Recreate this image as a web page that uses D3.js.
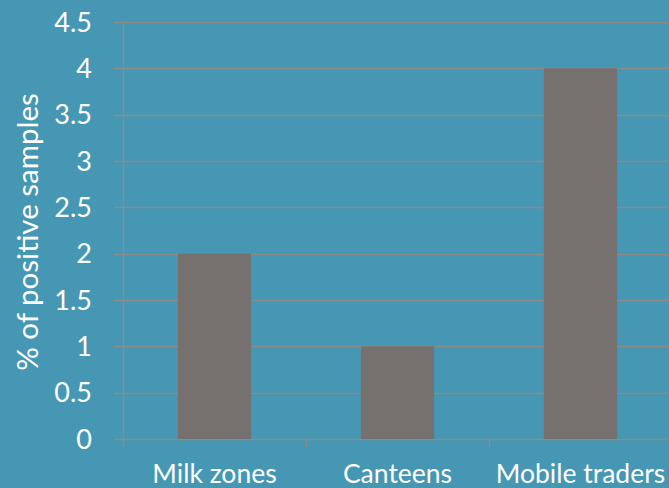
<!DOCTYPE html>
<html><head><meta charset="utf-8">
<script src="https://cdn.jsdelivr.net/npm/d3@7"></script>
<style>body{margin:0;background:#4697B4;} svg{display:block;}</style>
</head><body>
<script>
const categories = ["Milk zones", "Canteens", "Mobile traders"];
const values = [2, 1, 4];
const yTicks = [0, 0.5, 1, 1.5, 2, 2.5, 3, 3.5, 4, 4.5];
const yLabel = "% of positive samples";

const W = 669, H = 488;
const svg = d3.select("body").append("svg").attr("width", W).attr("height", H);
svg.append("rect").attr("width", W).attr("height", H).attr("fill", "#4697B4");

const x = d3.scaleBand().domain(categories).range([123, 672]).paddingInner(0.6).paddingOuter(0.3);
const y = d3.scaleLinear().domain([0, 4.5]).range([439, 22]);
const font = "Lato, 'Open Sans', sans-serif";
const gridColor = "#8E8A88";

// gridlines
svg.append("g").selectAll("line").data(yTicks).join("line")
  .attr("x1", 114).attr("x2", W).attr("y1", d => Math.round(y(d)) + 0.5).attr("y2", d => Math.round(y(d)) + 0.5)
  .attr("stroke", gridColor).attr("stroke-width", 1.3);

// y axis line
svg.append("line").attr("x1", 123.5).attr("x2", 123.5).attr("y1", y(4.5)).attr("y2", 447)
  .attr("stroke", gridColor).attr("stroke-width", 1.3);

// x ticks between categories
const step = x.step();
const tickX = [x(categories[0]) - x.paddingOuter()*step + step, x(categories[0]) - x.paddingOuter()*step + 2*step];
svg.append("g").selectAll("line").data(tickX).join("line")
  .attr("x1", d => Math.round(d) + 0.5).attr("x2", d => Math.round(d) + 0.5).attr("y1", 439).attr("y2", 447)
  .attr("stroke", gridColor).attr("stroke-width", 1.3);

// bars
svg.append("g").selectAll("rect").data(values).join("rect")
  .attr("x", (d, i) => x(categories[i])).attr("width", x.bandwidth())
  .attr("y", d => y(d)).attr("height", d => y(0) - y(d))
  .attr("fill", "#76706F");

// y tick labels
svg.append("g").selectAll("text").data(yTicks).join("text")
  .attr("x", 92).attr("y", d => y(d)).attr("dy", "0.36em")
  .attr("text-anchor", "end").attr("fill", "#fff")
  .attr("font-family", font).attr("font-size", 27)
  .text(d => d);

// category labels
svg.append("g").selectAll("text").data(categories).join("text")
  .attr("x", d => x(d) + x.bandwidth()/2).attr("y", 483)
  .attr("text-anchor", "middle").attr("fill", "#fff")
  .attr("font-family", font).attr("font-size", 26.5)
  .text(d => d);

// y axis title
svg.append("text").attr("transform", "translate(38,232) rotate(-90)")
  .attr("text-anchor", "middle").attr("fill", "#fff")
  .attr("font-family", font).attr("font-size", 29.5)
  .text(yLabel);
</script>
</body></html>
